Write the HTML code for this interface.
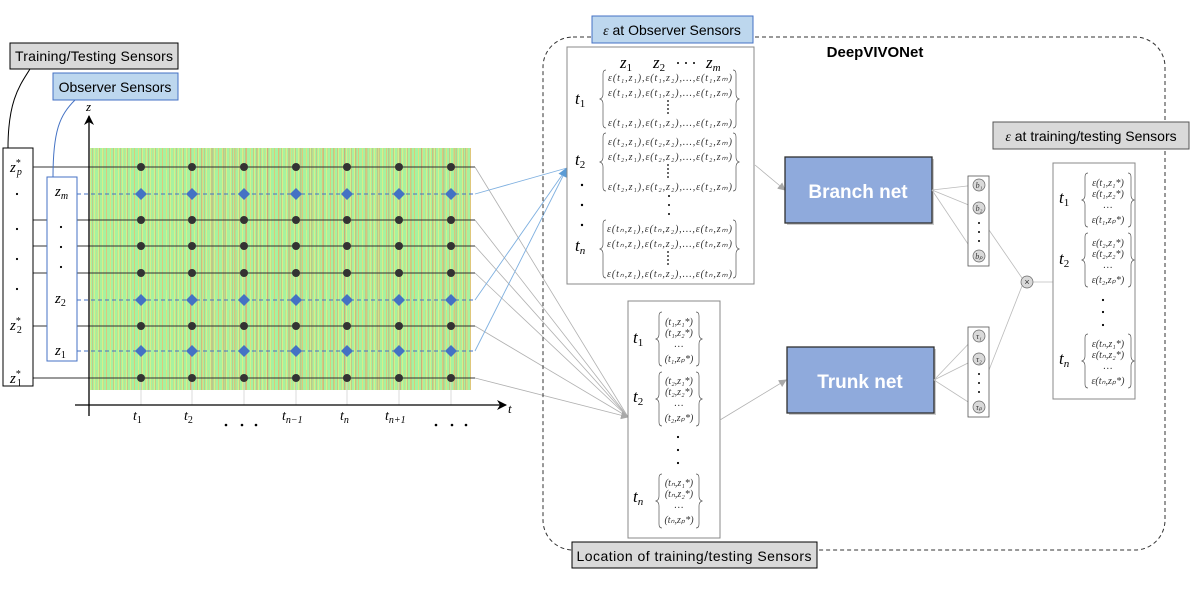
<!DOCTYPE html>
<html><head><meta charset="utf-8"><style>
html,body{margin:0;padding:0;background:#fff;}
svg{display:block;}
.m{font-family:"Liberation Serif",serif;font-style:italic;}
.s{font-family:"Liberation Sans",sans-serif;}
</style></head><body>
<svg width="1196" height="598" viewBox="0 0 1196 598" xmlns="http://www.w3.org/2000/svg">
<defs>
<pattern id="st" width="4" height="10" patternUnits="userSpaceOnUse">
<rect width="4" height="10" fill="#a6f2a0"/><rect x="2" width="1" height="10" fill="#e4ee84" opacity="0.75"/>
</pattern>
<pattern id="rd" width="7" height="60" patternUnits="userSpaceOnUse">
<rect x="1" width="1" height="60" fill="#ec9468" opacity="0.45"/><rect x="5" y="10" width="1" height="40" fill="#f0c070" opacity="0.4"/>
</pattern>
<pattern id="rd2" width="11" height="30" patternUnits="userSpaceOnUse">
<rect x="3" width="1.5" height="30" fill="#e07a60" opacity="0.35"/>
</pattern>
<marker id="ag" markerWidth="8" markerHeight="8" refX="7" refY="4" orient="auto" markerUnits="userSpaceOnUse"><path d="M0,0 L8,4 L0,8z" fill="#a8a8a8"/></marker>
<marker id="ab" markerWidth="10" markerHeight="10" refX="9" refY="5" orient="auto" markerUnits="userSpaceOnUse"><path d="M0,0 L10,5 L0,10z" fill="#5b9bd5"/></marker>
<marker id="ak" markerWidth="10" markerHeight="10" refX="9" refY="5" orient="auto" markerUnits="userSpaceOnUse"><path d="M0,0 L10,5 L0,10 L3,5z" fill="#000"/></marker>
<g id="dr"><circle cx="141" r="4"/><circle cx="192" r="4"/><circle cx="244" r="4"/><circle cx="296" r="4"/><circle cx="347" r="4"/><circle cx="399" r="4"/><circle cx="451" r="4"/></g>
<g id="dm"><path d="M141,-6 L147,0 L141,6 L135,0z"/><path d="M192,-6 L198,0 L192,6 L186,0z"/><path d="M244,-6 L250,0 L244,6 L238,0z"/><path d="M296,-6 L302,0 L296,6 L290,0z"/><path d="M347,-6 L353,0 L347,6 L341,0z"/><path d="M399,-6 L405,0 L399,6 L393,0z"/><path d="M451,-6 L457,0 L451,6 L445,0z"/></g>
<g id="vd"><circle cx="668" cy="0" r="0.9"/><circle cx="668" cy="4" r="0.9"/><circle cx="668" cy="8" r="0.9"/><circle cx="668" cy="12" r="0.9"/></g>
</defs>

<!-- heatmap -->
<rect x="90" y="148" width="381" height="242" fill="url(#st)"/>
<rect x="90" y="148" width="381" height="242" fill="url(#rd)"/>
<rect x="190" y="148" width="281" height="242" fill="url(#rd2)"/>

<g stroke="#b0b0b0" stroke-width="0.8" fill="none">
<line x1="475" y1="167" x2="628" y2="417"/>
<line x1="475" y1="220" x2="628" y2="417"/>
<line x1="475" y1="246" x2="628" y2="417"/>
<line x1="475" y1="273" x2="628" y2="417"/>
<line x1="475" y1="326" x2="628" y2="417"/>
<line x1="475" y1="378" x2="628" y2="417" marker-end="url(#ag)"/>
</g>
<g stroke="#7fb0e0" stroke-width="0.9" fill="none">
<line x1="475" y1="194" x2="567" y2="168"/>
<line x1="475" y1="300" x2="567" y2="168"/>
<line x1="475" y1="351" x2="567" y2="168" marker-end="url(#ab)"/>
</g>

<g stroke="#ccc" stroke-width="0.7">
<line x1="141" y1="378" x2="141" y2="405"/><line x1="192" y1="378" x2="192" y2="405"/><line x1="244" y1="378" x2="244" y2="405"/><line x1="296" y1="378" x2="296" y2="405"/><line x1="347" y1="378" x2="347" y2="405"/><line x1="399" y1="378" x2="399" y2="405"/><line x1="451" y1="378" x2="451" y2="405"/>
</g>

<g stroke="#333" stroke-width="1">
<line x1="33" y1="167" x2="475" y2="167"/>
<line x1="33" y1="220" x2="475" y2="220"/>
<line x1="33" y1="246" x2="475" y2="246"/>
<line x1="33" y1="273" x2="475" y2="273"/>
<line x1="33" y1="326" x2="475" y2="326"/>
<line x1="33" y1="378" x2="475" y2="378"/>
</g>
<g stroke="#4472c4" stroke-width="1" stroke-dasharray="4,3">
<line x1="77" y1="194" x2="475" y2="194"/>
<line x1="77" y1="300" x2="475" y2="300"/>
<line x1="77" y1="351" x2="475" y2="351"/>
</g>
<g fill="#333">
<use href="#dr" y="167"/><use href="#dr" y="220"/><use href="#dr" y="246"/><use href="#dr" y="273"/><use href="#dr" y="326"/><use href="#dr" y="378"/>
</g>
<g fill="#4472c4"><use href="#dm" y="194"/><use href="#dm" y="300"/><use href="#dm" y="351"/></g>

<line x1="89" y1="416" x2="89" y2="116" stroke="#000" stroke-width="1.3" marker-end="url(#ak)"/>
<line x1="75" y1="405" x2="506" y2="405" stroke="#000" stroke-width="1.3" marker-end="url(#ak)"/>
<text x="86" y="111" class="m" font-size="13">z</text>
<text x="508" y="413" class="m" font-size="13">t</text>
<g class="m" font-size="14">
<text x="133" y="420">t<tspan font-size="10" font-style="normal" dy="3">1</tspan></text>
<text x="184" y="420">t<tspan font-size="10" font-style="normal" dy="3">2</tspan></text>
<text x="282" y="420">t<tspan font-size="10" dy="3">n−1</tspan></text>
<text x="340" y="420">t<tspan font-size="10" dy="3">n</tspan></text>
<text x="385" y="420">t<tspan font-size="10" dy="3">n+1</tspan></text>
</g>
<g fill="#000"><circle cx="226" cy="425" r="1.3"/><circle cx="242" cy="425" r="1.3"/><circle cx="256" cy="425" r="1.3"/><circle cx="436" cy="425" r="1.3"/><circle cx="452" cy="425" r="1.3"/><circle cx="466" cy="425" r="1.3"/></g>

<path d="M30,69 C20,85 8,100 8,148" stroke="#000" stroke-width="1" fill="none"/>
<path d="M75,100 C60,115 53,130 53,177" stroke="#4472c4" stroke-width="1" fill="none"/>
<rect x="3" y="148" width="30" height="238" fill="#fff" stroke="#000" stroke-width="1"/>
<line x1="33" y1="167" x2="47" y2="167" stroke="#333"/>
<rect x="47" y="177" width="30" height="184" fill="#fff" stroke="#4472c4" stroke-width="1"/>
<g class="m" font-size="15">
<text x="10" y="172">z<tspan font-size="10" dy="-6" font-style="normal">*</tspan><tspan font-size="10" dy="9" dx="-4">p</tspan></text>
<text x="10" y="330">z<tspan font-size="10" dy="-6" font-style="normal">*</tspan><tspan font-size="10" dy="9" dx="-4" font-style="normal">2</tspan></text>
<text x="10" y="383">z<tspan font-size="10" dy="-6" font-style="normal">*</tspan><tspan font-size="10" dy="9" dx="-4" font-style="normal">1</tspan></text>
<text x="55" y="196">z<tspan font-size="10" dy="3">m</tspan></text>
<text x="55" y="303">z<tspan font-size="10" dy="3" font-style="normal">2</tspan></text>
<text x="55" y="355">z<tspan font-size="10" dy="3" font-style="normal">1</tspan></text>
</g>
<g fill="#000"><circle cx="17" cy="194" r="1.1"/><circle cx="17" cy="229" r="1.1"/><circle cx="17" cy="259" r="1.1"/><circle cx="17" cy="289" r="1.1"/><circle cx="61" cy="227" r="1.1"/><circle cx="61" cy="247" r="1.1"/><circle cx="61" cy="267" r="1.1"/></g>
<rect x="10" y="43" width="168" height="26" fill="#d9d9d9" stroke="#000" stroke-width="1"/>
<text x="94" y="61" class="s" font-size="14" text-anchor="middle" textLength="158">Training/Testing Sensors</text>
<rect x="53" y="73" width="125" height="27" fill="#bdd7ee" stroke="#4472c4" stroke-width="1"/>
<text x="115" y="92" class="s" font-size="14" text-anchor="middle">Observer Sensors</text>

<rect x="543" y="37" width="622" height="513" rx="30" fill="none" stroke="#333" stroke-width="1" stroke-dasharray="4,3"/>
<text x="875" y="57" class="s" font-size="15" font-weight="bold" text-anchor="middle">DeepVIVONet</text>

<rect x="567" y="47" width="187" height="237" fill="#fff" stroke="#888" stroke-width="1"/>
<rect x="592" y="16" width="161" height="27" fill="#bdd7ee" stroke="#4472c4" stroke-width="1"/>
<text x="672" y="35" class="s" font-size="14" text-anchor="middle"><tspan class="m">ε</tspan> at Observer Sensors</text>
<g class="m" font-size="17">
<text x="620" y="68">z<tspan font-size="11" font-style="normal" dy="3">1</tspan></text>
<text x="653" y="68">z<tspan font-size="11" font-style="normal" dy="3">2</tspan></text>
<text x="706" y="68">z<tspan font-size="11" dy="3">m</tspan></text>
<text x="575" y="104">t<tspan font-size="11" font-style="normal" dy="3">1</tspan></text>
<text x="575" y="165">t<tspan font-size="11" font-style="normal" dy="3">2</tspan></text>
<text x="575" y="251">t<tspan font-size="11" dy="3">n</tspan></text>
</g>
<g fill="#000"><circle cx="678" cy="63" r="1"/><circle cx="686" cy="63" r="1"/><circle cx="694" cy="63" r="1"/>
<circle cx="582" cy="185" r="1.2"/><circle cx="582" cy="205" r="1.2"/><circle cx="582" cy="225" r="1.2"/>
<circle cx="669" cy="196" r="1"/><circle cx="669" cy="205" r="1"/><circle cx="669" cy="214" r="1"/>
</g>
<g class="m" font-size="10" fill="#333">
<text x="608" y="81" textLength="124">ε(t₁,z₁),ε(t₁,z₂),…,ε(t₁,zₘ)</text>
<text x="608" y="96" textLength="124">ε(t₁,z₁),ε(t₁,z₂),…,ε(t₁,zₘ)</text>
<text x="608" y="126" textLength="124">ε(t₁,z₁),ε(t₁,z₂),…,ε(t₁,zₘ)</text>
<text x="608" y="145" textLength="124">ε(t₂,z₁),ε(t₂,z₂),…,ε(t₂,zₘ)</text>
<text x="608" y="160" textLength="124">ε(t₂,z₁),ε(t₂,z₂),…,ε(t₂,zₘ)</text>
<text x="608" y="190" textLength="124">ε(t₂,z₁),ε(t₂,z₂),…,ε(t₂,zₘ)</text>
<text x="607" y="232" textLength="125">ε(tₙ,z₁),ε(tₙ,z₂),…,ε(tₙ,zₘ)</text>
<text x="607" y="247" textLength="125">ε(tₙ,z₁),ε(tₙ,z₂),…,ε(tₙ,zₘ)</text>
<text x="607" y="277" textLength="125">ε(tₙ,z₁),ε(tₙ,z₂),…,ε(tₙ,zₘ)</text>
</g>
<g fill="#000"><use href="#vd" y="101"/><use href="#vd" y="165"/><use href="#vd" y="252"/></g>
<g stroke="#555" stroke-width="0.7" fill="none">
<path id="lb" d="M606,70 q-3,0 -3,4 v20 q0,4 -3,5 q3,1 3,5 v20 q0,4 3,4"/>
<path id="rb" d="M733,70 q3,0 3,4 v20 q0,4 3,5 q-3,1 -3,5 v20 q0,4 -3,4"/>
<use href="#lb" y="63"/><use href="#rb" y="63"/><use href="#lb" y="150"/><use href="#rb" y="150"/>
</g>

<rect x="628" y="301" width="92" height="237" fill="#fff" stroke="#888" stroke-width="1"/>
<g class="m" font-size="17">
<text x="633" y="343">t<tspan font-size="11" font-style="normal" dy="3">1</tspan></text>
<text x="633" y="402">t<tspan font-size="11" font-style="normal" dy="3">2</tspan></text>
<text x="633" y="502">t<tspan font-size="11" dy="3">n</tspan></text>
</g>
<g class="m" font-size="10" fill="#333" text-anchor="middle">
<text x="679" y="325">(t₁,z₁*)</text><text x="679" y="336">(t₁,z₂*)</text><text x="679" y="347">…</text><text x="679" y="362">(t₁,zₚ*)</text>
<text x="679" y="384">(t₂,z₁*)</text><text x="679" y="395">(t₂,z₂*)</text><text x="679" y="406">…</text><text x="679" y="421">(t₂,zₚ*)</text>
<text x="679" y="486">(tₙ,z₁*)</text><text x="679" y="497">(tₙ,z₂*)</text><text x="679" y="508">…</text><text x="679" y="523">(tₙ,zₚ*)</text>
</g>
<g fill="#000"><circle cx="678" cy="437" r="1.1"/><circle cx="678" cy="450" r="1.1"/><circle cx="678" cy="463" r="1.1"/></g>
<g stroke="#555" stroke-width="0.7" fill="none">
<path id="lb2" d="M662,312 q-3,0 -3,4 v18 q0,4 -3,5 q3,1 3,5 v18 q0,4 3,4"/>
<path id="rb2" d="M696,312 q3,0 3,4 v18 q0,4 3,5 q-3,1 -3,5 v18 q0,4 -3,4"/>
<use href="#lb2" y="60"/><use href="#rb2" y="60"/><use href="#lb2" y="162"/><use href="#rb2" y="162"/>
</g>
<rect x="572" y="542" width="245" height="26" fill="#d9d9d9" stroke="#000" stroke-width="1"/>
<text x="694" y="561" class="s" font-size="14" text-anchor="middle" textLength="235">Location of training/testing Sensors</text>

<line x1="755" y1="165" x2="785" y2="190" stroke="#b0b0b0" stroke-width="0.8" marker-end="url(#ag)"/>
<line x1="720" y1="420" x2="786" y2="380" stroke="#b0b0b0" stroke-width="0.8" marker-end="url(#ag)"/>
<rect x="787" y="159" width="147" height="66" fill="#7f7f7f" opacity="0.4"/>
<rect x="785" y="157" width="147" height="66" fill="#8faadc" stroke="#2f2f2f" stroke-width="1.3"/>
<text x="858" y="198" class="s" font-size="19" font-weight="bold" fill="#fff" text-anchor="middle">Branch net</text>
<rect x="789" y="349" width="147" height="66" fill="#7f7f7f" opacity="0.4"/>
<rect x="787" y="347" width="147" height="66" fill="#8faadc" stroke="#2f2f2f" stroke-width="1.3"/>
<text x="860" y="388" class="s" font-size="19" font-weight="bold" fill="#fff" text-anchor="middle">Trunk net</text>

<g stroke="#bbb" stroke-width="0.8" fill="none">
<line x1="932" y1="190" x2="976" y2="185"/><line x1="932" y1="190" x2="976" y2="208"/><line x1="932" y1="190" x2="976" y2="256"/>
<line x1="934" y1="380" x2="976" y2="336"/><line x1="934" y1="380" x2="976" y2="359"/><line x1="934" y1="380" x2="976" y2="407"/>
<line x1="989" y1="230" x2="1022" y2="278"/><line x1="989" y1="370" x2="1022" y2="286"/><line x1="1033" y1="282" x2="1053" y2="282"/>
</g>
<rect x="968" y="176" width="21" height="90" fill="#fff" stroke="#555" stroke-width="0.8"/>
<rect x="968" y="327" width="21" height="90" fill="#fff" stroke="#555" stroke-width="0.8"/>
<g fill="#d9d9d9" stroke="#666" stroke-width="0.7">
<circle cx="979" cy="185" r="6"/><circle cx="979" cy="208" r="6"/><circle cx="979" cy="256" r="6"/>
<circle cx="979" cy="336" r="6"/><circle cx="979" cy="359" r="6"/><circle cx="979" cy="407" r="6"/>
<circle cx="1027" cy="282" r="6"/>
</g>
<g class="m" font-size="8" text-anchor="middle" fill="#333">
<text x="979" y="188">b₁</text><text x="979" y="211">b₂</text><text x="979" y="259">bₚ</text>
<text x="979" y="339">τ₁</text><text x="979" y="362">τ₂</text><text x="979" y="410">τₚ</text>
</g>
<text x="1027" y="285" class="s" font-size="9" text-anchor="middle" fill="#333">×</text>
<g fill="#000"><circle cx="979" cy="223" r="1"/><circle cx="979" cy="232" r="1"/><circle cx="979" cy="241" r="1"/><circle cx="979" cy="374" r="1"/><circle cx="979" cy="383" r="1"/><circle cx="979" cy="392" r="1"/></g>

<rect x="993" y="122" width="196" height="27" fill="#d9d9d9" stroke="#555" stroke-width="1"/>
<text x="1091" y="141" class="s" font-size="14" text-anchor="middle"><tspan class="m">ε</tspan> at training/testing Sensors</text>
<rect x="1053" y="163" width="82" height="236" fill="#fff" stroke="#888" stroke-width="1"/>
<g class="m" font-size="17">
<text x="1059" y="203">t<tspan font-size="11" font-style="normal" dy="3">1</tspan></text>
<text x="1059" y="264">t<tspan font-size="11" font-style="normal" dy="3">2</tspan></text>
<text x="1059" y="364">t<tspan font-size="11" dy="3">n</tspan></text>
</g>
<g class="m" font-size="10" fill="#333" text-anchor="middle">
<text x="1108" y="186">ε(t₁,z₁*)</text><text x="1108" y="197">ε(t₁,z₂*)</text><text x="1108" y="208">…</text><text x="1108" y="223">ε(t₁,zₚ*)</text>
<text x="1108" y="246">ε(t₂,z₁*)</text><text x="1108" y="257">ε(t₂,z₂*)</text><text x="1108" y="268">…</text><text x="1108" y="283">ε(t₂,zₚ*)</text>
<text x="1108" y="347">ε(tₙ,z₁*)</text><text x="1108" y="358">ε(tₙ,z₂*)</text><text x="1108" y="369">…</text><text x="1108" y="384">ε(tₙ,zₚ*)</text>
</g>
<g fill="#000"><circle cx="1103" cy="300" r="1.1"/><circle cx="1103" cy="312" r="1.1"/><circle cx="1103" cy="325" r="1.1"/></g>
<g stroke="#555" stroke-width="0.7" fill="none">
<path id="lb3" d="M1088,173 q-3,0 -3,4 v18 q0,4 -3,5 q3,1 3,5 v18 q0,4 3,4"/>
<path id="rb3" d="M1128,173 q3,0 3,4 v18 q0,4 3,5 q-3,1 -3,5 v18 q0,4 -3,4"/>
<use href="#lb3" y="60"/><use href="#rb3" y="60"/><use href="#lb3" y="161"/><use href="#rb3" y="161"/>
</g>
</svg>
</body></html>
